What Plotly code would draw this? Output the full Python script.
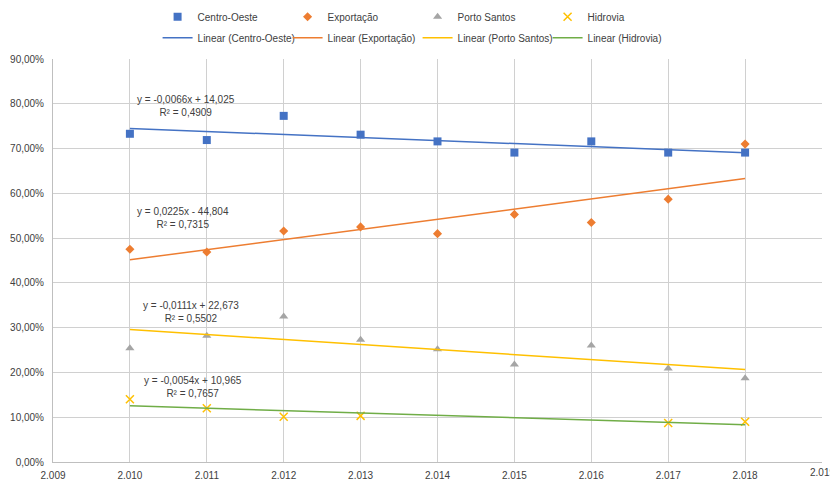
import numpy as np
import plotly.graph_objects as go

years = [2010, 2011, 2012, 2013, 2014, 2015, 2016, 2017, 2018]
centro_oeste = [73.3, 71.9, 77.3, 73.1, 71.6, 69.1, 71.6, 69.1, 69.1]
exportacao = [47.5, 46.9, 51.6, 52.5, 51.0, 55.3, 53.5, 58.7, 71.0]
porto_santos = [25.4, 28.2, 32.5, 27.3, 25.2, 21.8, 26.0, 20.9, 18.7]
hidrovia = [14.0, 12.0, 10.1, 10.3, None, None, None, 8.7, 9.0]

series_names = ["Centro-Oeste", "Exportação", "Porto Santos", "Hidrovia"]
equations = [
    "y = -0,0066x + 14,025<br>R² = 0,4909",
    "y = 0,0225x - 44,804<br>R² = 0,7315",
    "y = -0,0111x + 22,673<br>R² = 0,5502",
    "y = -0,0054x + 10,965<br>R² = 0,7657",
]
x_ticks = [2009, 2010, 2011, 2012, 2013, 2014, 2015, 2016, 2017, 2018, 2019]
x_ticktext = ["2.009", "2.010", "2.011", "2.012", "2.013", "2.014", "2.015", "2.016", "2.017", "2.018", "2.019"]
y_ticks = [0, 10, 20, 30, 40, 50, 60, 70, 80, 90]
y_ticktext = ["0,00%", "10,00%", "20,00%", "30,00%", "40,00%", "50,00%", "60,00%", "70,00%", "80,00%", "90,00%"]

colors = ["#4472C4", "#ED7D31", "#A5A5A5", "#FFC000"]
trend_colors = ["#4472C4", "#ED7D31", "#FFC000", "#70AD47"]
symbols = ["square", "diamond", "triangle-up", "x-thin-open"]
sizes = [8, 7, 8, 8]

FONT = "Liberation Sans, Arial, sans-serif"

fig = go.Figure()
all_series = [centro_oeste, exportacao, porto_santos, hidrovia]

for name, vals, c, s, sz in zip(series_names, all_series, colors, symbols, sizes):
    fig.add_trace(go.Scatter(
        x=years, y=vals, mode="markers", name=name,
        marker=dict(color=c, symbol=s, size=sz,
                    line=dict(color=c, width=1.5 if "x" in s else 0)),
        legend="legend",
    ))

for name, vals, c in zip(series_names, all_series, trend_colors):
    xs = np.array([x for x, v in zip(years, vals) if v is not None], dtype=float)
    ys = np.array([v for v in vals if v is not None], dtype=float)
    slope, intercept = np.polyfit(xs, ys, 1)
    xl = np.array([min(years), max(years)], dtype=float)
    fig.add_trace(go.Scatter(
        x=xl, y=slope * xl + intercept, mode="lines",
        name=f"Linear ({name})", line=dict(color=c, width=1.5),
        legend="legend2",
    ))

ann_pos = [(2010.73, 79.5), (2010.69, 54.5), (2010.79, 33.6), (2010.82, 16.8)]
for (ax, ay), txt in zip(ann_pos, equations):
    fig.add_annotation(x=ax, y=ay, text=txt, showarrow=False,
                       font=dict(size=10, color="#404040", family=FONT),
                       align="center", xanchor="center", yanchor="middle")

# last x tick label (partly cut at the page edge, as in the reference)
fig.add_annotation(x=x_ticks[-1], y=y_ticks[0], text=x_ticktext[-1], showarrow=False,
                   xanchor="center", yanchor="top", yshift=-3,
                   font=dict(size=10, color="#404040", family=FONT))

fig.update_layout(
    width=830, height=481,
    margin=dict(l=53, r=8, t=59, b=19, autoexpand=False),
    paper_bgcolor="white", plot_bgcolor="white",
    font=dict(family=FONT, size=10, color="#404040"),
    legend=dict(orientation="h", x=0.136, xanchor="left", y=1.105, yanchor="middle",
                entrywidth=85, entrywidthmode="pixels", font=dict(size=10),
                bgcolor="rgba(0,0,0,0)", tracegroupgap=0),
    legend2=dict(orientation="h", x=0.136, xanchor="left", y=1.053, yanchor="middle",
                 entrywidth=85, entrywidthmode="pixels", font=dict(size=10),
                 bgcolor="rgba(0,0,0,0)", tracegroupgap=0),
    showlegend=True,
)
fig.update_xaxes(range=[2009, 2019], tickvals=x_ticks, ticktext=x_ticktext,
                 showgrid=True, gridcolor="#D0D0D0", gridwidth=1,
                 showline=True, linecolor="#BFBFBF", zeroline=False,
                 tickfont=dict(size=10), ticks="", ticklabelstandoff=4)
fig.update_yaxes(range=[0, 90], tickvals=y_ticks, ticktext=y_ticktext,
                 showgrid=True, gridcolor="#D0D0D0", gridwidth=1,
                 showline=True, linecolor="#BFBFBF", zeroline=False,
                 tickfont=dict(size=10), ticks="", ticklabelstandoff=6)

fig.write_html("out.html")
